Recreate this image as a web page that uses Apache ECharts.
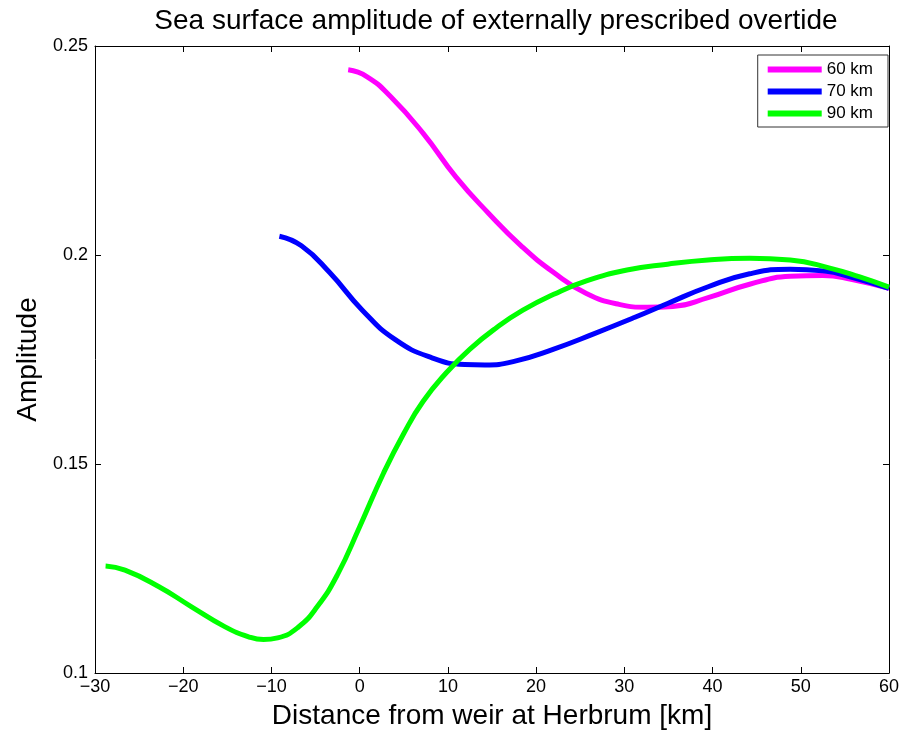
<!DOCTYPE html>
<html>
<head>
<meta charset="utf-8">
<script src="https://cdn.jsdelivr.net/npm/echarts@6/dist/echarts.min.js"></script>
<style>html,body{margin:0;padding:0;background:#fff}#c{width:912px;height:731px}</style>
</head>
<body>
<div id="c"></div>
<script>
const titleText = 'Sea surface amplitude of externally prescribed overtide';
const xName = 'Distance from weir at Herbrum [km]';
const yName = 'Amplitude';
const seriesNames = ['60 km', '70 km', '90 km'];
const seriesColors = ['#ff00ff', '#0000ff', '#00ff00'];

const x60 = [-1.3, 0.8, 3.5, 7.2, 10.9, 14.6, 18.3, 22.0, 25.7, 29.4, 32.6, 35.5, 39.5, 44.2, 48.8, 52.5, 55.7, 60];
const y60 = [0.2443, 0.2427, 0.2379, 0.2291, 0.2187, 0.2100, 0.2022, 0.1958, 0.1908, 0.1882, 0.1875, 0.1877, 0.1898, 0.1930, 0.1949, 0.1951, 0.1942, 0.1920];

const x70 = [-9.1, -6.6, -3.4, 0.3, 4.0, 8.2, 11.9, 14.2, 17.4, 22.0, 26.6, 31.2, 34.9, 39.5, 44.2, 48.8, 52.5, 56.2, 60];
const y70 = [0.2045, 0.2022, 0.1958, 0.1868, 0.1798, 0.1754, 0.1738, 0.1737, 0.1745, 0.1775, 0.1812, 0.1851, 0.1884, 0.1924, 0.1955, 0.1966, 0.1962, 0.1944, 0.1920];

const x90 = [-28.8, -26.6, -22.8, -19.1, -15.3, -12.5, -10.9, -9.3, -7.0, -4.8, -2.5, 0, 2.7, 5.0, 7.2, 9.9, 12.5, 15.5, 18.5, 22.0, 25.7, 30.3, 34.9, 39.5, 44.2, 48.8, 53.4, 56.6, 60];
const y90 = [0.1256, 0.1246, 0.1207, 0.1159, 0.1111, 0.1086, 0.1080, 0.1084, 0.1109, 0.1159, 0.1236, 0.1350, 0.1478, 0.1573, 0.1650, 0.1720, 0.1775, 0.1826, 0.1868, 0.1906, 0.1938, 0.1964, 0.1978, 0.1988, 0.1992, 0.1988, 0.1968, 0.1948, 0.1923];

const xTicks = [-30, -20, -10, 0, 10, 20, 30, 40, 50, 60];
const yTicks = [0.1, 0.15, 0.2, 0.25];

const xsAll = [x60, x70, x90];
const ysAll = [y60, y70, y90];

const font = 'Liberation Sans, Arial, sans-serif';
const chart = echarts.init(document.getElementById('c'), null, {renderer: 'canvas'});

const axisCommon = {
  axisLine: {show: true, onZero: false, lineStyle: {color: '#000', width: 1}},
  axisTick: {show: true, inside: true, length: 6, lineStyle: {color: '#000'}},
  splitLine: {show: false}
};

const option = {
  backgroundColor: '#fff',
  animation: false,
  title: {
    text: titleText, left: 491, top: 2, textAlign: 'center',
    textStyle: {fontFamily: font, fontSize: 28, fontWeight: 'normal', color: '#000'}
  },
  legend: {
    right: 24, top: 55, orient: 'vertical',
    data: seriesNames,
    icon: 'rect', itemWidth: 54, itemHeight: 6, itemGap: 5,
    padding: [6, 15, 5, 10],
    borderColor: '#333', borderWidth: 1, backgroundColor: '#fff',
    textStyle: {fontFamily: font, fontSize: 17, color: '#000'}
  },
  grid: {left: 95, right: 23, top: 46, bottom: 58, containLabel: false, outerBoundsMode: 'none'},
  xAxis: [
    Object.assign({
      type: 'value', min: -30, max: 60, interval: 10, position: 'bottom',
      name: xName, nameLocation: 'middle', nameGap: 29,
      nameTextStyle: {fontFamily: font, fontSize: 28, color: '#000'},
      axisLabel: {fontFamily: font, fontSize: 18, color: '#000', margin: 5,
        formatter: v => xTicks.includes(v) ? (v < 0 ? '\u2212' + Math.abs(v) : String(v)) : ''}
    }, axisCommon),
    Object.assign({
      type: 'value', min: -30, max: 60, interval: 10, position: 'top',
      axisLabel: {show: false}
    }, axisCommon)
  ],
  yAxis: [
    Object.assign({
      type: 'value', min: 0.1, max: 0.25, interval: 0.05, position: 'left',
      name: yName, nameLocation: 'middle', nameGap: 47, nameRotate: 90,
      nameTextStyle: {fontFamily: font, fontSize: 28, color: '#000'},
      axisLabel: {fontFamily: font, fontSize: 18, color: '#000', margin: 7,
        formatter: v => { const r = Math.round(v * 100) / 100; return yTicks.some(t => Math.abs(t - r) < 1e-9) ? String(r) : ''; }}
    }, axisCommon),
    Object.assign({
      type: 'value', min: 0.1, max: 0.25, interval: 0.05, position: 'right',
      axisLabel: {show: false}
    }, axisCommon)
  ],
  series: seriesNames.map((name, i) => ({
    name: name, type: 'line', smooth: 0.5, showSymbol: false, symbol: 'none',
    xAxisIndex: 0, yAxisIndex: 0,
    color: seriesColors[i],
    lineStyle: {color: seriesColors[i], width: 5},
    data: xsAll[i].map((x, j) => [x, ysAll[i][j]])
  }))
};
chart.setOption(option);
</script>
</body>
</html>
